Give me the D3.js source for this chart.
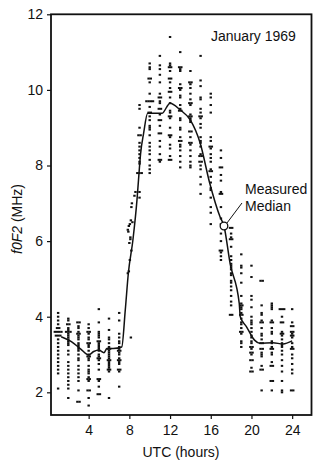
<!DOCTYPE html>
<html><head><meta charset="utf-8">
<script src="https://cdn.jsdelivr.net/npm/d3@7/dist/d3.min.js"></script>
<style>html,body{margin:0;padding:0;background:#fff}svg{display:block}text{font-family:"Liberation Sans",Arial,Helvetica,sans-serif;fill:#111}</style>
</head><body><svg id="c" width="327" height="474"></svg>
<script>
// ---- data ----
const xTicks = [4, 8, 12, 16, 20, 24];
const yTicks = [2, 4, 6, 8, 10, 12];
const colHours = [1,2,3,4,5,6,7,9,10,11,12,13,14,15,16,17,18,19,20,21,22,23,24];
const colValues = [
 [4.1,4.0,3.9,3.8,3.7,3.7,3.6,3.6,3.6,3.6,3.5,3.5,3.5,3.4,3.3,3.2,3.1,3.0,2.9,2.8,2.7,2.6,2.5,2.1],
 [3.95,3.9,3.8,3.8,3.7,3.65,3.6,3.6,3.6,3.55,3.5,3.45,3.4,3.35,3.3,3.25,3.1,3.0,2.8,2.7,2.6,2.5,2.4,2.3,2.2,2.1,1.85],
 [3.85,3.85,3.75,3.7,3.6,3.55,3.55,3.5,3.45,3.4,3.3,3.25,3.2,3.15,3.1,3.0,2.9,2.85,2.7,2.6,2.5,2.4,2.3,2.05,1.75,1.75],
 [3.8,3.7,3.6,3.6,3.55,3.45,3.4,3.3,3.3,3.25,3.2,3.1,3.0,2.95,2.95,2.9,2.85,2.7,2.6,2.55,2.5,2.4,2.35,2.35,2.3,2.05,2.05,1.85,1.65],
 [4.2,3.85,3.6,3.55,3.5,3.45,3.35,3.35,3.3,3.25,3.2,3.15,3.1,3.0,2.95,2.9,2.9,2.85,2.75,2.6,2.35,2.35,2.3,2.15,1.95,1.95],
 [3.95,3.65,3.45,3.4,3.3,3.2,3.15,3.15,3.1,3.05,3.0,2.95,2.9,2.85,2.85,2.8,2.75,2.7,2.65,2.6,2.6,2.55,1.85],
 [4.1,3.9,3.55,3.45,3.35,3.3,3.2,3.15,3.1,3.1,3.05,3.0,2.9,2.85,2.85,2.8,2.75,2.6,2.6,2.55,2.15],
 [9.6,9.5,9.0,8.8,8.8,8.6,8.5,8.4,8.3,8.2,8.1,8.05,7.8,7.8,7.8,7.3,7.15],
 [10.7,10.6,10.55,10.3,10.3,10.2,9.9,9.7,9.7,9.7,9.7,9.55,9.4,9.4,9.3,9.2,9.05,9.0,8.95,8.8,8.6,8.5,8.4,8.3,8.15,8.0,7.9,7.8],
 [10.9,10.65,10.55,10.4,10.2,9.9,9.8,9.8,9.7,9.65,9.5,9.5,9.35,9.2,9.2,9.05,8.85,8.85,8.65,8.5,8.3,8.15,8.15,8.1],
 [11.4,10.7,10.65,10.6,10.6,10.5,10.3,10.3,10.2,10.05,9.95,9.95,9.8,9.65,9.45,9.4,9.3,9.3,9.25,9.0,8.8,8.8,8.75,8.55,8.45,8.25,8.15,8.15],
 [11.0,10.6,10.6,10.55,10.5,10.15,10.05,10.05,10.0,9.85,9.8,9.6,9.5,9.45,9.45,9.25,9.2,9.0,8.95,8.75,8.65,8.65,8.55,8.5,8.4,8.25,8.1,7.95],
 [10.5,10.2,10.2,10.15,10.05,9.9,9.75,9.65,9.65,9.6,9.35,9.3,9.3,9.25,9.2,9.15,8.9,8.9,8.75,8.6,8.6,8.55,8.4,8.25,8.1,8.0,7.95],
 [10.9,10.25,10.1,9.8,9.75,9.5,9.4,9.3,9.3,9.25,9.1,9.0,8.75,8.65,8.6,8.5,8.3,8.25,8.25,8.1,8.1,8.0,7.9,7.7,7.5,7.25],
 [9.9,9.8,9.6,9.4,8.75,8.65,8.5,8.5,8.45,8.3,8.2,8.1,7.9,7.85,7.85,7.7,7.55,7.4,7.35,7.15,6.9,6.75,6.45],
 [8.4,8.2,7.95,7.95,7.75,7.6,7.3,7.25,7.25,6.9,6.6,6.45,6.2,6.0,5.75,5.75,5.7,5.6,5.5],
 [6.35,6.35,6.2,6.1,6.05,6.05,5.85,5.6,5.5,5.4,5.35,5.3,5.25,5.15,5.1,4.95,4.9,4.8,4.7,4.55,4.4,4.3,4.05,4.05],
 [5.65,5.35,5.3,5.15,4.9,4.55,4.35,4.3,4.3,4.25,4.2,4.1,4.05,4.05,3.95,3.85,3.8,3.7,3.6,3.6,3.55,3.35,3.3,3.2],
 [5.35,5.05,4.55,4.45,4.25,4.0,3.9,3.85,3.8,3.7,3.6,3.5,3.45,3.35,3.3,3.2,3.2,3.15,3.05,3.05,3.0,2.85,2.85,2.65,2.55,2.55],
 [4.95,4.95,4.3,4.1,4.05,3.9,3.85,3.85,3.7,3.55,3.5,3.4,3.3,3.3,3.15,3.15,3.05,3.0,2.95,2.7,2.6,2.6,2.05],
 [4.35,4.3,4.25,4.2,3.9,3.85,3.85,3.7,3.6,3.55,3.35,3.3,3.2,3.15,3.15,3.05,3.0,2.8,2.7,2.7,2.3,2.3,2.05],
 [4.2,4.2,4.2,4.0,3.85,3.85,3.6,3.55,3.55,3.5,3.4,3.3,3.25,3.2,3.1,3.0,2.85,2.7,2.55,2.3,2.05,2.0],
 [4.2,3.85,3.75,3.75,3.6,3.6,3.55,3.5,3.5,3.45,3.3,3.2,3.15,3.15,3.0,2.9,2.75,2.6,2.5,2.05,2.05]
];
// sunrise hour: observations spread in time
const rampTime = [7.85,7.95,8.05,8.2,8.0,8.1,8.1,7.9,7.85,7.95,8.05,8.3,8.15,8.2,8.25,8.5,8.6,8.15];
const rampValue = [5.15,5.2,5.5,5.75,5.95,6.05,6.1,6.25,6.3,6.4,6.45,6.5,6.55,6.9,7.0,7.2,7.3,3.45];
// measured median curve
const medianHour = [1.3,2.3,3.2,4.0,4.5,5.0,5.5,5.8,6.4,7.25,7.6,7.9,8.35,8.75,8.9,9.1,9.4,9.8,11.2,12.0,13.0,14.0,14.95,15.9,16.9,17.3,17.9,18.8,18.9,19.5,20.3,20.8,22.1,23.1,24.0];
const medianValue = [3.47,3.34,3.15,2.99,3.08,3.12,3.05,3.16,3.16,3.2,4.18,5.15,6.03,7.09,7.62,8.3,8.85,9.38,9.38,9.65,9.47,9.2,8.6,7.53,6.65,6.4,5.41,4.35,4.0,3.74,3.38,3.3,3.31,3.28,3.36];
const markerHour = 17.3, markerValue = 6.4;

// ---- layout ----
const svg = d3.select("#c");
const L = 51, R = 311.5, T = 14.3, B = 415;
const x = d3.scaleLinear().domain([0.3, 25.9]).range([L, R]);
const y = d3.scaleLinear().domain([1.4, 12]).range([B, T]);

// points
const pts = [];
colHours.forEach((h, i) => {
  const groups = d3.group(colValues[i], v => v);
  groups.forEach((arr, v) => {
    const n = arr.length;
    arr.forEach((_, k) => pts.push({px: x(h) + (k - (n - 1) / 2) * 2.2, py: y(v)}));
  });
});
rampTime.forEach((t, i) => pts.push({px: x(t), py: y(rampValue[i])}));

svg.append("g").selectAll("rect").data(pts).join("rect")
  .attr("x", d => d.px - 1.2).attr("y", d => d.py - 1)
  .attr("width", 2.4).attr("height", 2).attr("fill", "#111");

// median line
const line = d3.line().x((d, i) => x(medianHour[i])).y(d => y(d)).curve(d3.curveMonotoneX);
svg.append("path").attr("d", line(medianValue)).attr("fill", "none")
  .attr("stroke", "#111").attr("stroke-width", 1.5);

// frame
svg.append("rect").attr("x", L).attr("y", T).attr("width", R - L).attr("height", B - T)
  .attr("fill", "none").attr("stroke", "#111").attr("stroke-width", 1.8);

// axes
const xa = svg.append("g").attr("transform", `translate(0,${B})`)
  .call(d3.axisBottom(x).tickValues(xTicks).tickSize(4).tickPadding(6));
const ya = svg.append("g").attr("transform", `translate(${L},0)`)
  .call(d3.axisLeft(y).tickValues(yTicks).tickSize(4).tickPadding(4));
[xa, ya].forEach(a => {
  a.select(".domain").remove();
  a.selectAll("line").attr("stroke", "#111").attr("stroke-width", 1.2);
  a.selectAll("text").attr("font-size", 14).attr("font-family", "Liberation Sans, Arial, sans-serif").attr("fill", "#111");
});

// axis titles
svg.append("text").attr("x", 181).attr("y", 457).attr("text-anchor", "middle")
  .attr("font-size", 14).text("UTC (hours)");
const yt = svg.append("text").attr("transform", "translate(22,219) rotate(-90)")
  .attr("text-anchor", "middle").attr("font-size", 14);
yt.append("tspan").attr("font-style", "italic").text("f0F2");
yt.append("tspan").text(" (MHz)");

// annotations
svg.append("text").attr("x", 211).attr("y", 41).attr("font-size", 14).text("January 1969");
const cx = x(markerHour), cy = y(markerValue);
svg.append("line").attr("x1", cx + 3).attr("y1", cy - 3).attr("x2", cx + 18).attr("y2", cy - 23)
  .attr("stroke", "#111").attr("stroke-width", 1);
svg.append("circle").attr("cx", cx).attr("cy", cy).attr("r", 3.8)
  .attr("fill", "#fff").attr("stroke", "#111").attr("stroke-width", 1.3);
svg.append("text").attr("x", 245).attr("y", 194).attr("font-size", 14).text("Measured");
svg.append("text").attr("x", 245).attr("y", 211).attr("font-size", 14).text("Median");
</script></body></html>
